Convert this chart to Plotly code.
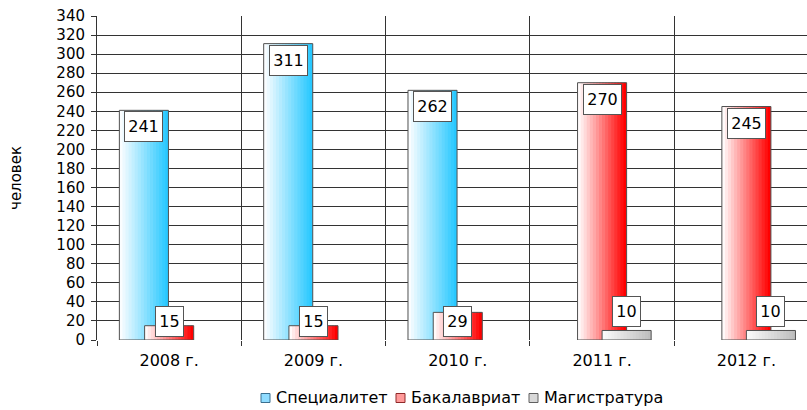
import plotly.graph_objects as go

categories = ["2008 г.", "2009 г.", "2010 г.", "2011 г.", "2012 г."]
spec = [241, 311, 262, 0, 0]
bak = [15, 15, 29, 270, 245]
mag = [0, 0, 0, 10, 10]
series_names = ["Специалитет", "Бакалавриат", "Магистратура"]
y_ticks = list(range(0, 341, 20))

FONT = "Verdana, DejaVu Sans, sans-serif"
BAR_W = 0.34
centers = [-0.175, 0.0, 0.17]
light = [(250, 253, 255), (255, 250, 250), (250, 250, 250)]
dark = [(40, 200, 255), (255, 0, 0), (190, 190, 190)]
legend_col = ["#8fdcff", "#ff9a9a", "#d8d8d8"]
legend_border = ["#3a6f8f", "#8f2a2a", "#606060"]
label_mode = ["inside", "inside", "outside"]
N = 16

# layout constants (pixels) for plot area and custom legend
L, T, B, W, H = 97, 16, 70, 807, 410
PW, PH = W - L, H - T - B
leg_sq_x = [261, 396, 529]
leg_txt_x = [274, 409, 542]
leg_y = 398

fig = go.Figure()
annotations = []
shapes = []
px_per_unit = PH / 340.0

for si, vals in enumerate([spec, bak, mag]):
    yv = [v if v else None for v in vals]
    off0 = centers[si] - BAR_W / 2
    s = BAR_W / N
    for i in range(N):
        t = i / (N - 1)
        c = tuple(int(round(light[si][k] + (dark[si][k] - light[si][k]) * t)) for k in range(3))
        w = s if i == N - 1 else s * 1.6
        fig.add_trace(go.Bar(
            x=categories, y=yv, width=w, offset=off0 + i * s,
            marker=dict(color="rgb(%d,%d,%d)" % c, line=dict(width=0)),
            showlegend=False, hoverinfo="skip"))
    fig.add_trace(go.Bar(
        x=categories, y=yv, width=BAR_W, offset=off0, name=series_names[si],
        marker=dict(color="rgba(0,0,0,0)", line=dict(color="#505050", width=1)),
        showlegend=False, hoverinfo="skip"))
    for ci, v in enumerate(vals):
        if not v:
            continue
        xpos = ci + centers[si]
        if label_mode[si] == "outside":
            annotations.append(dict(x=xpos, y=v, yanchor="bottom", yshift=3))
        elif v * px_per_unit > 36:
            annotations.append(dict(x=xpos, y=v, yanchor="top", yshift=-1))
        else:
            annotations.append(dict(x=xpos, y=0, yanchor="bottom", yshift=3))
        txt = str(v)
        annotations[-1].update(text=txt, xref="x", yref="y", showarrow=False,
                               xanchor="center", bgcolor="white", bordercolor="#555555",
                               borderwidth=1, borderpad=1,
                               width=10 * len(txt) + 5, height=27,
                               font=dict(family=FONT, size=16, color="black"))

# custom legend (symbol squares + text)
for si, name in enumerate(series_names):
    x0 = (leg_sq_x[si] - L) / PW
    x1 = (leg_sq_x[si] + 9 - L) / PW
    y0 = (T + PH - (leg_y + 4.5)) / PH
    y1 = (T + PH - (leg_y - 4.5)) / PH
    shapes.append(dict(type="rect", xref="paper", yref="paper", x0=x0, x1=x1, y0=y0, y1=y1,
                       fillcolor=legend_col[si], line=dict(color=legend_border[si], width=1)))
    annotations.append(dict(text=name, xref="paper", yref="paper",
                            x=(leg_txt_x[si] - L) / PW, y=(T + PH - leg_y) / PH,
                            xanchor="left", yanchor="middle", showarrow=False,
                            font=dict(family=FONT, size=16, color="black")))

fig.update_layout(
    width=W, height=H,
    margin=dict(l=L, r=0, t=T, b=B, autoexpand=False),
    barmode="overlay",
    plot_bgcolor="white", paper_bgcolor="white",
    font=dict(family=FONT, size=15, color="black"),
    annotations=annotations,
    shapes=shapes,
    showlegend=False,
    xaxis=dict(range=[-0.5, 4.42], tickson="boundaries", showgrid=True,
               gridcolor="#333333", gridwidth=1, ticks="outside", ticklen=5,
               tickcolor="#333333", showline=False, zeroline=False,
               automargin=False, ticklabelstandoff=9,
               tickfont=dict(size=16)),
    yaxis=dict(range=[0, 340], tickvals=y_ticks, showgrid=True, gridcolor="#333333",
               gridwidth=1, ticks="outside", ticklen=5, tickcolor="#333333",
               showline=True, linecolor="#333333", linewidth=1, zeroline=False,
               automargin=False, ticklabelstandoff=3,
               tickfont=dict(size=15),
               title=dict(text="человек", standoff=31, font=dict(size=15))),
)

fig.write_html("out.html", config={"displayModeBar": False},
               post_script="document.body.style.margin='0';")
